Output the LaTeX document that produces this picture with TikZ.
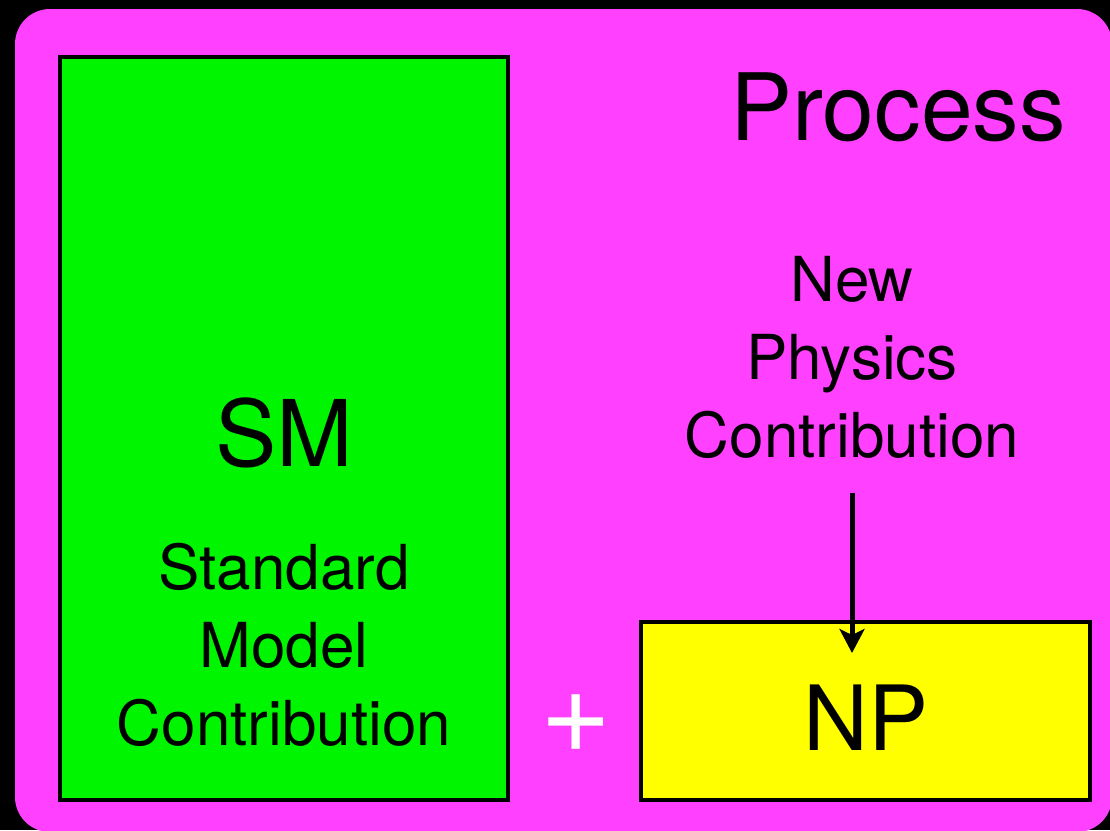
\documentclass[tikz,border=0pt]{standalone}
\usepackage{fontspec}
\setmainfont{TeX Gyre Heros}
\usetikzlibrary{arrows.meta}
\definecolor{procmagenta}{RGB}{255,64,255}
\definecolor{smgreen}{RGB}{0,245,0}
\definecolor{npyellow}{RGB}{255,255,0}
\tikzset{
  box/.style={draw=black, line width=4.5pt, inner sep=0pt, outer sep=0pt, anchor=north west},
  bigtext/.style={font=\fontsize{92}{92}\selectfont, inner sep=0pt},
  midtext/.style={font=\fontsize{62}{78}\selectfont, inner sep=0pt, align=center},
}
\begin{document}
\begin{tikzpicture}[x=1pt, y=-1pt]
\useasboundingbox (0,0) rectangle (1110,830);
\fill[black] (0,0) rectangle (1110,830);
\begin{scope}
\clip (0,0) rectangle (1110,830);
\fill[procmagenta, rounded corners=35pt] (15,9) rectangle (1112,832);
\end{scope}
\node[box, fill=smgreen, minimum width=448pt, minimum height=743pt] (smbox) at (60,57) {};
\node[box, fill=npyellow, minimum width=449pt, minimum height=178pt] (npbox) at (641,622) {};
\node[bigtext, anchor=base west, font=\fontsize{93}{93}\selectfont] (process) at (730,140) {Process};
\node[bigtext, anchor=base] (sm) at (284,466) {SM};
\node[bigtext, anchor=base, font=\fontsize{90}{90}\selectfont] (np) at (866,750) {NP};
\node[midtext] (smdesc) at (284,645) {Standard\\Model\\Contribution};
\node[midtext] (npdesc) at (852,357) {New\\Physics\\Contribution};
\node[inner sep=0pt, text=white, font=\fontsize{122}{122}\selectfont] (plus) at (576,724) {+};
\coordinate (arrowstart) at (852,493);
\coordinate (arrowend) at (852,653);
\draw[line width=5pt, -{Stealth[length=24pt, width=25pt, inset=6pt]}] (arrowstart) -- (arrowend);
\end{tikzpicture}
\end{document}
